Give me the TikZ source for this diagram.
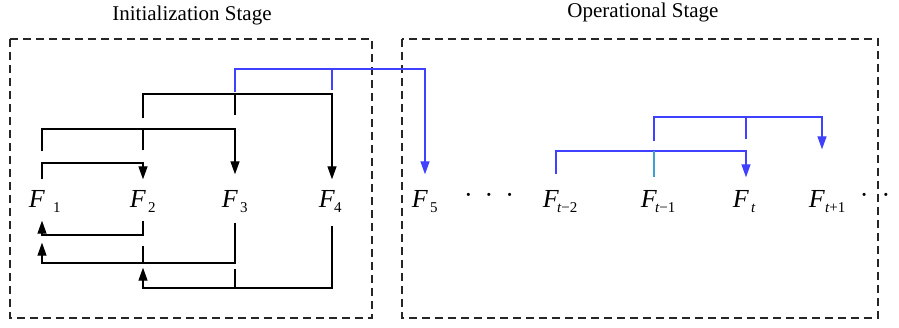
\documentclass[tikz,border=0pt]{standalone}
\usepackage{fontspec}
\setmainfont{Liberation Serif}
\usepackage{xcolor}
\usetikzlibrary{arrows.meta}

\definecolor{linkblue}{RGB}{64,64,255}
\definecolor{stubteal}{RGB}{60,160,210}

% F with subscript; optional arg = offset of the subscript from the node x
\newcommand{\Fsub}[2][5pt]{\makebox[0pt]{\hspace{-10pt}\textit{F}}\rlap{\kern#1\raisebox{-5pt}{\fontsize{15}{15}\selectfont #2}}}

\tikzset{
  frame/.style={draw=black!85, line width=1.4pt, dash pattern=on 8pt off 5pt},
  title/.style={font=\fontsize{21}{24}\selectfont},
  fnode/.style={inner xsep=0pt, inner ysep=11pt, text height=17pt, text depth=2pt, font=\fontsize{26}{28}\selectfont},
  link/.style={line width=1.3pt},
  arr/.style={link, -{Triangle[length=13pt,width=9pt]}},
}

\begin{document}
\begin{tikzpicture}[x=1pt, y=-1pt]
  \useasboundingbox (0,0) rectangle (899,327);

  \node[title] (inittitle) at (192,15) {Initialization Stage};
  \node[title] (optitle)   at (643,12) {Operational Stage};
  \draw[frame] (10,39)  rectangle (372,318);
  \draw[frame] (402,39) rectangle (878,318);

  \node[fnode] (f1)   at (42,200)  {\Fsub[11pt]{1}};
  \node[fnode] (f2)   at (143,200) {\Fsub{2}};
  \node[fnode] (f3)   at (235,200) {\Fsub{3}};
  \node[fnode] (f4)   at (332,200) {\Fsub[2pt]{4}};
  \node[fnode] (f5)   at (425,200) {\Fsub{5}};
  \node[fnode] (ftm2) at (556,200) {\Fsub[1pt]{\textit{t}−2}};
  \node[fnode] (ftm1) at (654,200) {\Fsub[1pt]{\textit{t}−1}};
  \node[fnode] (ft)   at (746,200) {\Fsub{\textit{t}}};
  \node[fnode] (ftp1) at (822,200) {\Fsub[3pt]{\textit{t}+1}};
  \node[fnode] (dotsa) at (489,200) {\raisebox{4pt}{·\hspace{12pt}·\hspace{12pt}·}};
  \node[fnode] (dotsb) at (875,200) {\raisebox{4pt}{·\hspace{13pt}·}};

  % levels of the connectors
  \coordinate (l1) at (0,163);
  \coordinate (l2) at (0,129);
  \coordinate (l3) at (0,94);
  \coordinate (l4) at (0,69);
  \coordinate (b1) at (0,235);
  \coordinate (b2) at (0,263);
  \coordinate (b3) at (0,288);
  \coordinate (r1) at (0,151);
  \coordinate (r2) at (0,117);

  % forward, initialization
  \draw[arr] (f1.north) -- (f1.north |- l1) -| (f2.north);
  \draw[arr, shorten <=28pt, shorten >=5pt] (f1.north) -- (f1.north |- l2) -| (f3.north);
  \draw[link, shorten <=29pt] (f2.north) -- (f2.north |- l2);
  \draw[arr, shorten <=61pt] (f2.north) -- (f2.north |- l3) -| (f4.north);
  \draw[link, shorten <=64pt] (f3.north) -- (f3.north |- l3);
  \draw[arr, linkblue, shorten <=87pt, shorten >=5pt] (f3.north) -- (f3.north |- l4) -| (f5.north);
  \draw[link, linkblue, shorten <=89pt] (f4.north) -- (f4.north |- l4);

  % backward, initialization
  \draw[arr] (f2.south) -- (f2.south |- b1) -| (f1.south);
  \draw[arr, shorten <=2pt, shorten >=22pt] (f3.south) -- (f3.south |- b2) -| (f1.south);
  \draw[link, shorten <=25pt] (f2.south) -- (f2.south |- b2);
  \draw[arr, shorten <=5pt, shorten >=47pt] (f4.south) -- (f4.south |- b3) -| (f2.south);
  \draw[link, shorten <=48pt] (f3.south) -- (f3.south |- b3);

  % operational
  \draw[arr, linkblue, shorten <=5pt, shorten >=2pt] (ftm2.north) -- (ftm2.north |- r1) -| (ft.north);
  \draw[link, stubteal, shorten <=2pt] (ftm1.north) -- (ftm1.north |- r1);
  \draw[arr, linkblue, shorten <=38pt, shorten >=30pt] (ftm1.north) -- (ftm1.north |- r2) -| (ftp1.north);
  \draw[link, linkblue, shorten <=40pt] (ft.north) -- (ft.north |- r2);
\end{tikzpicture}
\end{document}
